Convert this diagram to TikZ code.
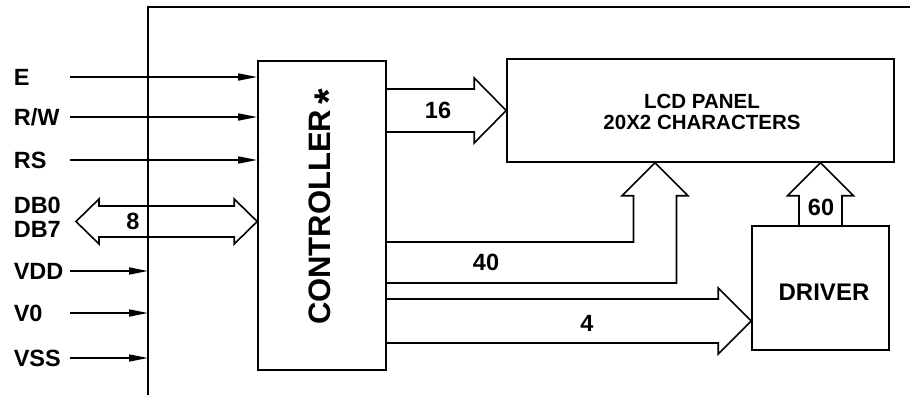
\documentclass[tikz,border=0pt]{standalone}
\usepackage{fontspec}
\setmainfont{Liberation Sans}
\usetikzlibrary{positioning, arrows.meta, calc}

\begin{document}
\begin{tikzpicture}[
  x=1pt, y=-1pt,
  font=\bfseries,
  >={Triangle[length=19pt, width=7pt]},
  line width=1.6pt,
  blockbox/.style={rectangle, draw, line width=1.6pt, inner sep=0pt},
  pinlabel/.style={anchor=west, inner sep=0pt, font=\fontsize{23.5}{24}\selectfont\bfseries},
  pinarrow/.style={->, line width=1.6pt},
  busarrow/.style={draw, line width=1.6pt, line join=miter},
  buslabel/.style={inner sep=0pt, font=\fontsize{23.5}{24}\selectfont\bfseries}
]
\useasboundingbox (0,0) rectangle (910,395);

% Module outline
\coordinate (frame) at (148,7);
\draw (148,395) -- (frame) -- (910,7);

% Blocks
\node[blockbox, minimum width=128pt, minimum height=309pt] (ctrl) at (322,215.5) {};
\node[rotate=90, inner sep=0pt, font=\fontsize{31}{31}\selectfont\bfseries] (ctrltext) at (326,207)
  {CONTROLLER\,{\fontsize{40}{40}\selectfont\raisebox{-12pt}{*}}};
\node[blockbox, minimum width=387pt, minimum height=103pt] (lcd) at (700.5,110.5) {};
\node[inner sep=0pt, align=center, font=\fontsize{20.5}{21.5}\selectfont\bfseries] (lcdtext) at (702,112) {LCD PANEL\\20X2 CHARACTERS};
\node[blockbox, minimum width=137pt, minimum height=124pt] (driver) at (820.5,288) {};
\node[inner sep=0pt, font=\fontsize{24}{24}\selectfont\bfseries] (drivertext) at (824,292) {DRIVER};

% Control pins into the controller
\foreach \n/\t/\yy in {E/E/77, RW/{R/W}/117, RS/RS/160} {
  \node[pinlabel] (l\n) at (13,\yy) {\t};
  \coordinate (s\n) at (70,\yy);
  \draw[pinarrow] (s\n) -- (ctrl.west |- s\n);
}

% Supply pins into the module
\foreach \n/\t/\yy in {VDD/VDD/271, VO/V0/313, VSS/VSS/358} {
  \node[pinlabel] (l\n) at (13,\yy) {\t};
  \coordinate (s\n) at (70,\yy);
  \draw[pinarrow] (s\n) -- (frame |- s\n);
}

% Data bus
\node[pinlabel] (lDB0) at (13,205) {DB0};
\node[pinlabel] (lDB7) at (13,229) {DB7};
\coordinate (dbtip) at (76,221.5);
\draw[busarrow] (dbtip) -- ++(23,-22.5) -- ++(0,7) -- ($(ctrl.west |- dbtip)+(-23,-15.5)$)
  -- ++(0,-7) -- (ctrl.west |- dbtip) -- ++(-23,22.5) -- ++(0,-7)
  -- ($(dbtip)+(23,15.5)$) -- ++(0,7) -- cycle;
\node[buslabel] (n8) at (133,221) {8};

% Controller to LCD panel
\draw[busarrow] ($(ctrl.east |- lcd.west)+(0,-21.5)$) -- ($(lcd.west)+(-32,-21.5)$)
  -- ($(lcd.west)+(-32,-32.5)$) -- (lcd.west) -- ($(lcd.west)+(-32,32.5)$)
  -- ($(lcd.west)+(-32,21.5)$) -- ($(ctrl.east |- lcd.west)+(0,21.5)$);
\node[buslabel] (n16) at (438,110) {16};

% Controller to LCD panel, bent up
\coordinate (tip40) at (lcd.south -| 655,0);
\draw[busarrow] (ctrl.east |- 0,242) -- ($(tip40 |- 0,242)+(-21.5,0)$)
  -- ($(tip40)+(-21.5,33)$) -- ($(tip40)+(-33,33)$) -- (tip40) -- ($(tip40)+(33,33)$)
  -- ($(tip40)+(21.5,33)$) -- ($(tip40 |- 0,283)+(21.5,0)$) -- (ctrl.east |- 0,283);
\node[buslabel] (n40) at (486,262) {40};

% Controller to driver
\coordinate (tip4) at (driver.west |- 0,321);
\draw[busarrow] (ctrl.east |- 0,299) -- ($(tip4)+(-33,-22)$) -- ($(tip4)+(-33,-33)$)
  -- (tip4) -- ($(tip4)+(-33,33)$) -- ($(tip4)+(-33,22)$) -- (ctrl.east |- 0,343);
\node[buslabel] (n4) at (587,323) {4};

% Driver to LCD panel
\coordinate (tip60) at (driver.north |- lcd.south);
\draw[busarrow] ($(driver.north)+(-21.5,0)$) -- ($(tip60)+(-21.5,33)$) -- ($(tip60)+(-33,33)$)
  -- (tip60) -- ($(tip60)+(33,33)$) -- ($(tip60)+(21.5,33)$) -- ($(driver.north)+(21.5,0)$);
\node[buslabel] (n60) at (821,207) {60};

\end{tikzpicture}
\end{document}
